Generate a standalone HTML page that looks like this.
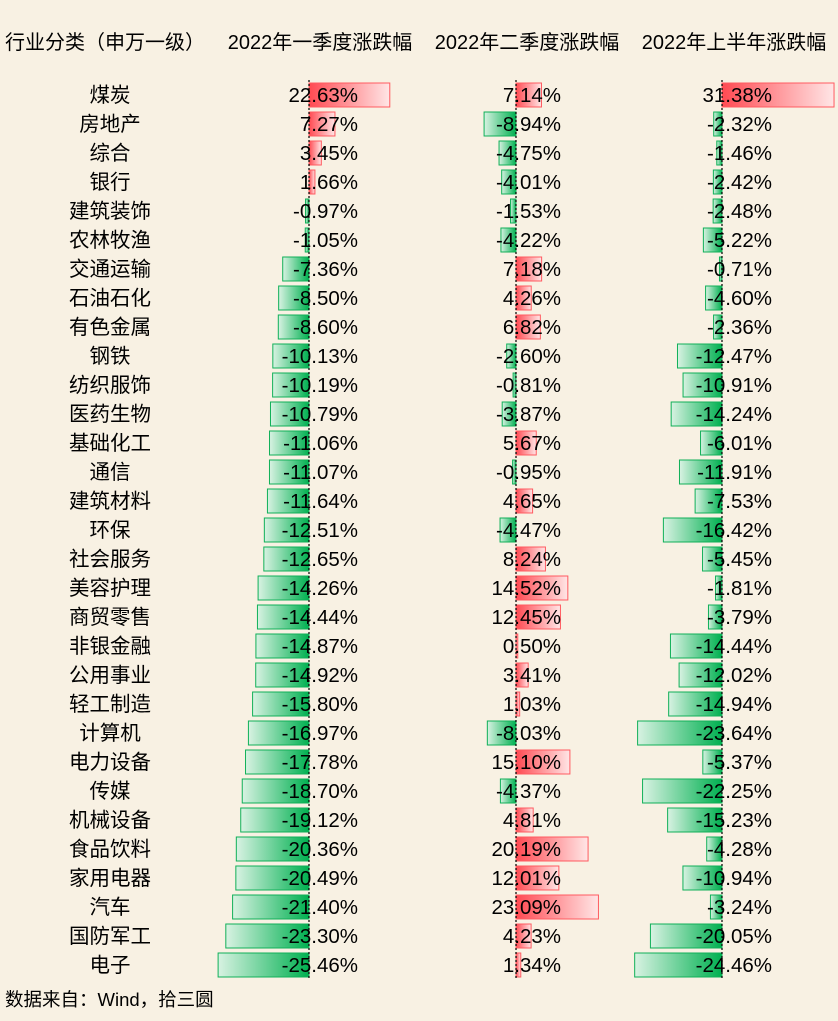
<!DOCTYPE html>
<html><head><meta charset="utf-8"><style>
body{margin:0;background:#f8f1e3;}
svg{display:block;font-family:"Liberation Sans","Noto Sans CJK SC",sans-serif;}
</style></head><body>
<svg id="c" width="838" height="1021" viewBox="0 0 838 1021">
<defs>
<linearGradient id="gr" x1="0" x2="1" y1="0" y2="0"><stop offset="0" stop-color="#ff4a52"/><stop offset="1" stop-color="#ffe6e6"/></linearGradient>
<linearGradient id="gg" x1="0" x2="1" y1="0" y2="0"><stop offset="0" stop-color="#d8f2e2"/><stop offset="1" stop-color="#00b050"/></linearGradient>
</defs>
<rect width="838" height="1021" fill="#f8f1e3"/>
<g font-size="20" fill="#000">
<text x="105" y="49" text-anchor="middle">行业分类（申万一级）</text>
<text x="320" y="49" text-anchor="middle">2022年一季度涨跌幅</text>
<text x="527" y="49" text-anchor="middle">2022年二季度涨跌幅</text>
<text x="734" y="49" text-anchor="middle">2022年上半年涨跌幅</text>
</g>
<text x="5" y="1006" font-size="18.5">数据来自：Wind，拾三圆</text>
<g id="rows"></g>
</svg>
<script>
const industries=["煤炭","房地产","综合","银行","建筑装饰","农林牧渔","交通运输","石油石化","有色金属","钢铁","纺织服饰","医药生物","基础化工","通信","建筑材料","环保","社会服务","美容护理","商贸零售","非银金融","公用事业","轻工制造","计算机","电力设备","传媒","机械设备","食品饮料","家用电器","汽车","国防军工","电子"];
const q1=[22.63,7.27,3.45,1.66,-0.97,-1.05,-7.36,-8.50,-8.60,-10.13,-10.19,-10.79,-11.06,-11.07,-11.64,-12.51,-12.65,-14.26,-14.44,-14.87,-14.92,-15.80,-16.97,-17.78,-18.70,-19.12,-20.36,-20.49,-21.40,-23.30,-25.46];
const q2=[7.14,-8.94,-4.75,-4.01,-1.53,-4.22,7.18,4.26,6.82,-2.60,-0.81,-3.87,5.67,-0.95,4.65,-4.47,8.24,14.52,12.45,0.50,3.41,1.03,-8.03,15.10,-4.37,4.81,20.19,12.01,23.09,4.23,1.34];
const h1=[31.38,-2.32,-1.46,-2.42,-2.48,-5.22,-0.71,-4.60,-2.36,-12.47,-10.91,-14.24,-6.01,-11.91,-7.53,-16.42,-5.45,-1.81,-3.79,-14.44,-12.02,-14.94,-23.64,-5.37,-22.25,-15.23,-4.28,-10.94,-3.24,-20.05,-24.46];
const NS="http://www.w3.org/2000/svg";
const g=document.getElementById('rows');
const scale=3.57;
const rowY=i=>95+i*29;
const cols=[{data:q1,axis:309,right:358,key:'q1'},{data:q2,axis:516,right:561,key:'q2'},{data:h1,axis:722,right:772,key:'h1'}];
function mk(tag,attrs){const e=document.createElementNS(NS,tag);for(const k in attrs)e.setAttribute(k,attrs[k]);g.appendChild(e);return e;}
cols.forEach(c=>{
  c.data.forEach((v,i)=>{
    const w=Math.abs(v)*scale;const y=rowY(i)-12;
    const r=mk('rect',{x:v>=0?c.axis:c.axis-w,y:y,width:w,height:24,fill:v>=0?'url(#gr)':'url(#gg)',stroke:v>=0?'#ff5a60':'#10b058','stroke-width':1});
    
    
  });
  const l=mk('line',{x1:c.axis,x2:c.axis,y1:80,y2:978,stroke:'#000','stroke-width':1.2,'stroke-dasharray':'2,2'});
  
  
  c.data.forEach((v,i)=>{
    const t=mk('text',{x:c.right,y:rowY(i)+7,'text-anchor':'end','font-size':20.5});
    t.textContent=v.toFixed(2)+'%';
    
    
  });
});
industries.forEach((n,i)=>{
  const t=mk('text',{x:110,y:rowY(i)+7,'text-anchor':'middle','font-size':20.5});
  t.textContent=n;
  
  
});
</script>
</body></html>
